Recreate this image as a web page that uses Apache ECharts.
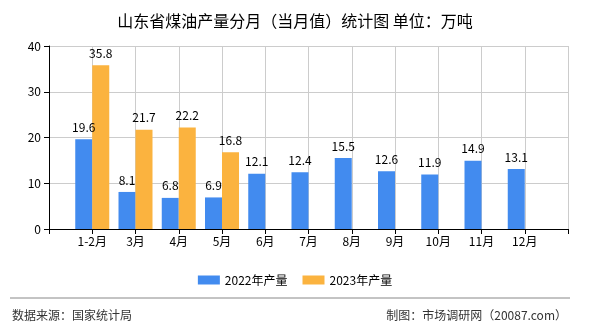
<!DOCTYPE html>
<html><head><meta charset="utf-8">
<script src="https://cdn.jsdelivr.net/npm/echarts@6/dist/echarts.min.js"></script>
<style>html,body{margin:0;padding:0;background:#fff}#c{width:590px;height:330px}</style>
</head><body><div id="c"></div>
<script>
var categories = ["", "1-2月", "3月", "4月", "5月", "6月", "7月", "8月", "9月", "10月", "11月", "12月", ""];
var s2022 = [null, 19.6, 8.1, 6.8, 6.9, 12.1, 12.4, 15.5, 12.6, 11.9, 14.9, 13.1, null];
var s2023 = [null, 35.8, 21.7, 22.2, 16.8, null, null, null, null, null, null, null, null];
var seriesNames = ["2022年产量", "2023年产量"];
var yTicks = [0, 10, 20, 30, 40];

var font = "'Noto Sans CJK SC', sans-serif";
var chart = echarts.init(document.getElementById('c'), null, {renderer: 'canvas'});
var lbl = {show: true, position: 'top', distance: 6, color: '#000', fontSize: 12, fontFamily: font};
chart.setOption({
  animation: false,
  title: {text: '山东省煤油产量分月（当月值）统计图 单位：万吨', left: 'center', top: 8,
    textStyle: {fontSize: 16, fontWeight: 'normal', color: '#000', fontFamily: font}},
  legend: {top: 269, left: 'center', itemWidth: 22, itemHeight: 9, itemGap: 15,
    icon: 'rect', textStyle: {fontSize: 12, color: '#000', fontFamily: font},
    data: seriesNames},
  grid: {left: 49, right: 22, top: 46, bottom: 101},
  xAxis: {type: 'category', data: categories, boundaryGap: false,
    axisLine: {lineStyle: {color: '#000'}},
    axisTick: {show: true, lineStyle: {color: '#000'}},
    axisLabel: {color: '#000', fontSize: 12, fontFamily: font, margin: 6, interval: 0},
    splitLine: {show: true, lineStyle: {color: '#ccc'}}},
  yAxis: {type: 'value', min: yTicks[0], max: yTicks[yTicks.length-1], interval: 10,
    axisLine: {show: true, lineStyle: {color: '#000'}},
    axisTick: {show: true, lineStyle: {color: '#000'}},
    axisLabel: {color: '#000', fontSize: 12, fontFamily: font, margin: 8},
    splitLine: {show: true, lineStyle: {color: '#ccc'}}},
  graphic: [
    {type: 'line', shape: {x1: 10, y1: 298, x2: 570, y2: 298}, style: {stroke: '#888', lineWidth: 1}},
    {type: 'text', left: 12, top: 309, style: {text: '数据来源：国家统计局', fontSize: 12, fill: '#333', fontFamily: font}},
    {type: 'text', right: 23, top: 309, style: {text: '制图：市场调研网（20087.com）', fontSize: 12, fill: '#333', fontFamily: font}}
  ],
  series: [
    {name: seriesNames[0], type: 'bar', data: s2022, barWidth: 17, barGap: '0%',
      itemStyle: {color: '#428BEF'}, label: lbl},
    {name: seriesNames[1], type: 'bar', data: s2023, barWidth: 17, barGap: '0%',
      itemStyle: {color: '#FBB33F'}, label: lbl}
  ]
});
</script></body></html>
